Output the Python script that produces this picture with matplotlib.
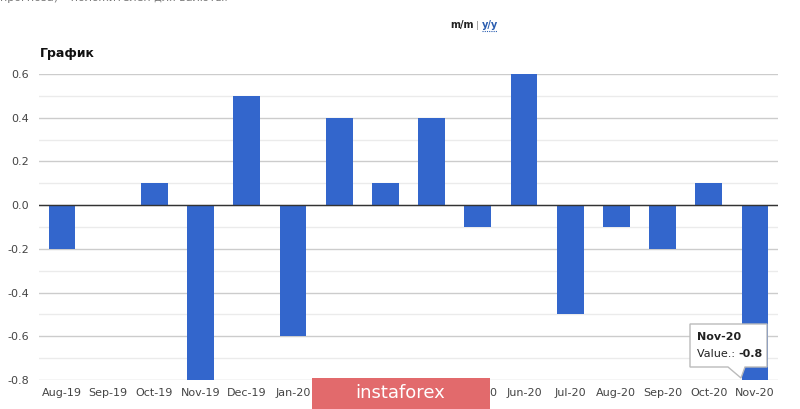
import matplotlib
matplotlib.use("Agg")
import matplotlib.pyplot as plt
from matplotlib.patches import Rectangle, Polygon
from matplotlib.ticker import MultipleLocator

categories = ["Aug-19", "Sep-19", "Oct-19", "Nov-19", "Dec-19", "Jan-20", "Feb-20", "Mar-20",
              "Apr-20", "May-20", "Jun-20", "Jul-20", "Aug-20", "Sep-20", "Oct-20", "Nov-20"]
values = [-0.2, 0.0, 0.1, -0.8, 0.5, -0.6, 0.4, 0.1, 0.4, -0.1, 0.6, -0.5, -0.1, -0.2, 0.1, -0.8]
y_ticks = [0.6, 0.4, 0.2, 0.0, -0.2, -0.4, -0.6, -0.8]

W, H = 800, 409
fig = plt.figure(figsize=(W / 100, H / 100), dpi=100)
fig.patch.set_facecolor("white")

ax = fig.add_axes([39 / W, 1 - 380 / H, (778 - 39) / W, (380 - 74) / H])
x = list(range(len(categories)))
ax.bar(x, values, width=0.58, color="#3366cc", zorder=3)
ax.set_xlim(-0.5, len(categories) - 0.5)
ax.set_ylim(-0.8, 0.6)
ax.set_yticks(y_ticks)
ax.set_yticklabels([f"{v:.1f}" for v in y_ticks])
ax.yaxis.set_minor_locator(MultipleLocator(0.1))
ax.grid(axis="y", which="major", color="#cccccc", linewidth=1, zorder=0)
ax.grid(axis="y", which="minor", color="#ebebeb", linewidth=1, zorder=0)
ax.axhline(0, color="#333333", linewidth=1, zorder=4)
ax.set_xticks(x)
ax.set_xticklabels(categories)
ax.tick_params(axis="both", which="both", length=0, labelsize=8, labelcolor="#444444")
ax.tick_params(axis="y", pad=7)
ax.tick_params(axis="x", pad=6)
for s in ax.spines.values():
    s.set_visible(False)

# Header texts
fig.text(0, 1 + 2 / H, "прогноза) – положителен для валюты.", fontsize=8, color="#777777",
         ha="left", va="center", family="DejaVu Sans")
fig.text(450 / W, 1 - 25 / H, "m/m", fontsize=7, fontweight="bold", color="#222222", ha="left", va="center")
fig.text(476 / W, 1 - 25 / H, "|", fontsize=6.5, color="#888888", ha="left", va="center")
fig.text(482 / W, 1 - 25 / H, "y/y", fontsize=7, fontweight="bold", color="#2a5db0", ha="left", va="center")
fig.add_artist(plt.Line2D([482 / W, 497 / W], [1 - 31 / H, 1 - 31 / H], color="#2a5db0",
                          linewidth=0.8, linestyle=(0, (1, 1))))
fig.text(40 / W, 1 - 54 / H, "График", fontsize=9, fontweight="bold", color="#111111", ha="left", va="center")

# Tooltip
pts = [(690, 324), (767, 324), (767, 367), (745, 367), (741, 378), (728, 367), (690, 367)]
tip = Polygon([(px / W, 1 - py / H) for px, py in pts], closed=True, facecolor="white",
              edgecolor="#bbbbbb", linewidth=1, transform=fig.transFigure, zorder=10)
fig.add_artist(tip)
fig.text(697 / W, 1 - 337 / H, "Nov-20", fontsize=8, fontweight="bold", color="#222222",
         ha="left", va="center", zorder=11)
fig.text(697 / W, 1 - 354 / H, "Value.: ", fontsize=8, color="#222222", ha="left", va="center", zorder=11)
fig.text(738 / W, 1 - 354 / H, "-0.8", fontsize=8, fontweight="bold", color="#222222",
         ha="left", va="center", zorder=11)

# Watermark
wm = Rectangle((312 / W, 0), (490 - 312) / W, (409 - 378) / H, transform=fig.transFigure,
               facecolor="#e26a6c", edgecolor="none", zorder=12)
fig.add_artist(wm)
fig.text(400 / W, 1 - 393 / H, "instaforex", fontsize=13, color="white", ha="center", va="center",
         zorder=13, family="DejaVu Sans")

fig.savefig("out.png", dpi=100)
